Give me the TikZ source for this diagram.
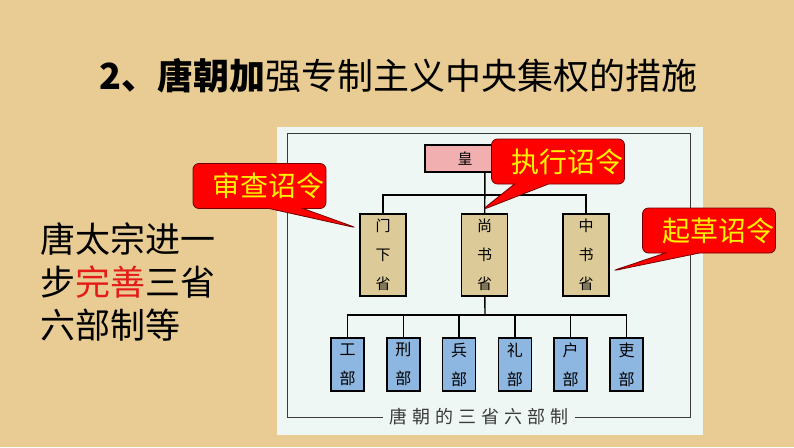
\documentclass[tikz,border=0pt]{standalone}
\usepackage{fontspec}
\setmainfont{Noto Sans CJK SC}
\newfontfamily\capfont[LetterSpace=28]{Noto Sans CJK SC}
\usepackage{xcolor}
\usepackage{tikz}
\usetikzlibrary{shapes,positioning}
\definecolor{paper}{HTML}{E8CC93}
\definecolor{panel}{HTML}{EEF7F4}
\definecolor{tanbox}{HTML}{DCCB98}
\definecolor{pinkbox}{HTML}{F2AFAF}
\definecolor{bluebox}{HTML}{8DB6E0}
\definecolor{redtext}{HTML}{E41B17}
\definecolor{darkline}{HTML}{3A3A3A}
\tikzstyle{emperor} = [rectangle, draw, line width=1.6pt, fill=pinkbox, minimum width=120pt, minimum height=27pt, font=\fontsize{15}{15}\selectfont]
\tikzstyle{province} = [rectangle, draw, line width=1.6pt, fill=tanbox, minimum width=46pt, minimum height=82pt, align=center, font=\fontsize{15}{29}\selectfont, node distance=101.5pt]
\tikzstyle{ministry} = [rectangle, draw, line width=1.6pt, fill=bluebox, minimum width=33pt, minimum height=53pt, align=center, font=\fontsize{16}{29}\selectfont, node distance=55.8pt]
\tikzstyle{order} = [rectangle callout, rounded corners=6pt, draw=red!45!black, line width=0.8pt, fill=red, text=yellow, text width=130pt, align=right, inner xsep=1.5pt, minimum height=45pt, callout pointer width=34pt, font=\fontsize{28}{28}\selectfont]
\tikzstyle{link} = [line width=1.4pt]

\begin{document}
\begin{tikzpicture}[x=1pt, y=-1pt]
  \useasboundingbox (0,0) rectangle (794,447);
  \fill[paper] (0,0) rectangle (794,447);
  \node[anchor=west, font=\fontsize{36}{36}\selectfont] (title) at (96,76) {\textbf{2、唐朝加}强专制主义中央集权的措施};
  \node[anchor=west, align=left, font=\fontsize{35}{43}\selectfont] (taizong) at (37,282) {唐太宗进一\\步\textcolor{redtext}{完善}三省\\六部制等};

  % chart panel
  \fill[panel] (277,127) rectangle (703,435);
  \draw[darkline, line width=0.8pt] (287,133) rectangle (690,417);
  \node[fill=panel, inner xsep=6pt, text=darkline, font=\capfont\fontsize{18}{18}\selectfont] (caption) at (479,417) {唐朝的三省六部制};

  \node[emperor] (huang) at (485,158.5) {皇\kern40pt};
  \node[province] (menxia) at (383,255) {门\\下\\省};
  \node[province, right of=menxia] (shangshu) {尚\\书\\省};
  \node[province, right of=shangshu] (zhongshu) {中\\书\\省};
  \coordinate (top bar) at (485,195);
  \draw[link] (huang) -- (shangshu);
  \draw[link] (menxia) |- (top bar) -| (zhongshu);

  \node[ministry] (works) at (347.5,364.5) {工\\部};
  \node[ministry, right of=works] (justice) {刑\\部};
  \node[ministry, right of=justice] (war) {兵\\部};
  \node[ministry, right of=war] (rites) {礼\\部};
  \node[ministry, right of=rites] (revenue) {户\\部};
  \node[ministry, right of=revenue] (personnel) {吏\\部};
  \coordinate (low bar) at (485,315);
  \draw[link] (shangshu) -- (low bar);
  \foreach \dept in {works,justice,war,rites,revenue,personnel}
    \draw[link] (\dept) |- (low bar);

  % callouts
  \node[order, callout absolute pointer={(357,228)}] (review) at (259.5,186) {审查诏令};
  \node[order, callout absolute pointer={(482,210)}] (execute) at (558,161.5) {执行诏令};
  \node[order, callout absolute pointer={(612,271)}] (draft) at (709,230.5) {起草诏令};
\end{tikzpicture}
\end{document}
